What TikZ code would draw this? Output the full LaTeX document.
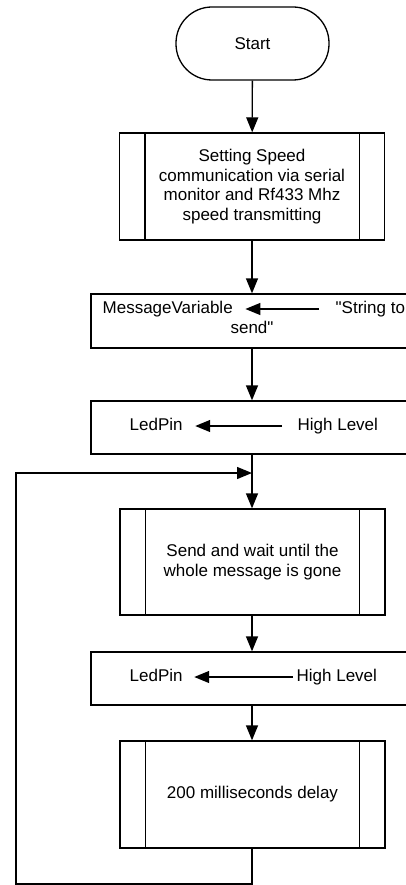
\documentclass[tikz,border=0pt]{standalone}
\usepackage{fontspec}
\newfontfamily\flowfont{Liberation Sans}
\usetikzlibrary{arrows.meta}
\usetikzlibrary{positioning}
\tikzset{flow/.style = {-{Triangle[width=12pt,length=15pt]}},
         terminal/.style = {draw, rectangle, rounded corners=36pt,
                            minimum width=153pt, minimum height=73pt},
         procbox/.style = {draw, rectangle, minimum width=265pt,
                           align=center, inner sep=0pt},
         assignbox/.style = {draw, rectangle, minimum width=323pt},
         txt/.style = {inner sep=0pt, text height=12pt, text depth=3.5pt}}

\begin{document}
\begin{tikzpicture}[x=1pt, y=-1pt, line width=1.3pt,
                    font=\flowfont\fontsize{17}{19.5}\selectfont]
    \clip (0, 0) rectangle (406, 885);

    \node [terminal] (start) at (252.5, 43.5) {Start};
    \node [procbox, minimum height=107pt] (proc1) at (252, 186.5)
      {Setting Speed\\communication via serial\\monitor and Rf433 Mhz\\speed transmitting};
    \node [assignbox, minimum height=54pt] (assign1) at (252.5, 321) {};
    \node [assignbox, minimum height=53pt] (assign2) at (252.5, 427.5) {};
    \coordinate (join) at (252, 473);
    \node [procbox, minimum height=106pt] (proc2) at (252.5, 562)
      {Send and wait until the\\whole message is gone};
    \node [assignbox, minimum height=53pt] (assign3) at (252.5, 678.5) {};
    \node [procbox, minimum height=107pt] (proc3) at (252.5, 794.5)
      {200 milliseconds delay};
    \coordinate (loopa) at (252, 884);
    \coordinate (loopb) at (16, 884);
    \coordinate (loopc) at (16, 473);

    % side bars of the process boxes
    \foreach \n in {proc1,proc2,proc3} {
      \draw ([xshift=26pt]\n.north west) -- ([xshift=26pt]\n.south west);
      \draw ([xshift=-26pt]\n.north east) -- ([xshift=-26pt]\n.south east);
    }

    % assignments
    \node [txt, anchor=west] (msgvar) at (102, 309) {MessageVariable};
    \node [txt, anchor=west] (strto) at (335, 309) {"String to};
    \node [txt] (send) at (252, 329) {send"};
    \draw [flow, shorten <=16pt, shorten >=12pt] (strto.west) -- (msgvar.east);

    \node [txt, anchor=west] (ledpin1) at (129, 426) {LedPin};
    \node [txt, anchor=west] (high1) at (297, 426) {High Level};
    \draw [flow, shorten <=15pt, shorten >=12pt] (high1.west) -- (ledpin1.east);

    \node [txt, anchor=west] (ledpin2) at (129, 677) {LedPin};
    \node [txt, anchor=west] (high2) at (296, 677) {High Level};
    \draw [flow, shorten <=3pt, shorten >=11pt] (high2.west) -- (ledpin2.east);

    % main flow
    \draw [flow] (start) -- (proc1);
    \draw [flow] (proc1) -- (assign1.north -| proc1.south);
    \draw [flow] (assign1.south -| join) -- (assign2.north -| join);
    \draw (assign2.south -| join) -- (join);
    \draw [flow] (join) -- (proc2.north -| join);
    \draw [flow] (proc2.south -| join) -- (assign3.north -| join);
    \draw [flow] (assign3.south -| join) -- (proc3.north -| join);

    % loop back
    \draw [flow] (proc3.south -| join) -- (loopa) -- (loopb) -- (loopc) -- (join);
  \end{tikzpicture}
\end{document}
